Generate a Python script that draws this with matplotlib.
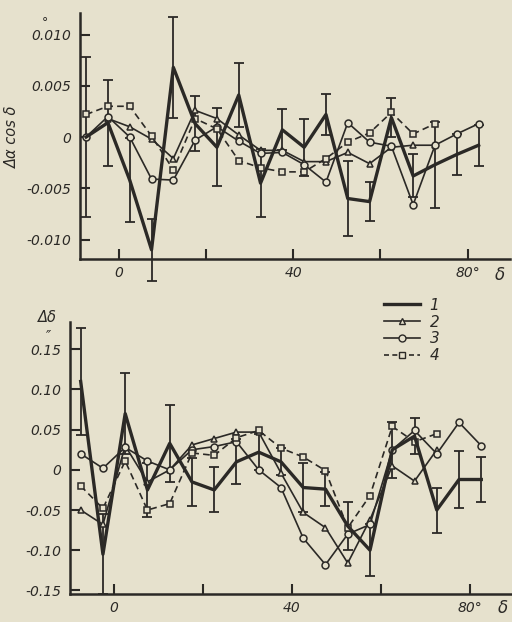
import matplotlib
matplotlib.use('Agg')
import matplotlib.pyplot as plt
from matplotlib.lines import Line2D

# declination zones (deg)
dec = [-7.5, -2.5, 2.5, 7.5, 12.5, 17.5, 22.5, 27.5, 32.5, 37.5,
       42.5, 47.5, 52.5, 57.5, 62.5, 67.5, 72.5, 77.5, 82.5]

# upper panel: delta alpha cos delta (s)
a1 = [0.0, 0.0014, -0.0042, -0.011, 0.0068, 0.0013, -0.001, 0.0041, -0.0045, 0.0007,
      -0.001, 0.0022, -0.006, -0.0063, 0.0019, -0.0038, -0.0027, -0.0017, -0.0008]
a1_err = [0.0078, 0.0042, 0.0041, 0.003, 0.0049, 0.0027, 0.0038, 0.0031, 0.0033, 0.002,
          0.0028, 0.002, 0.0037, 0.0019, 0.0019, 0.0021, 0.0042, 0.002, 0.002]
a2_dec = dec[1:17]
a2 = [0.0018, 0.001, -0.0002, -0.0021, 0.0026, 0.0018, 0.0002, -0.0013, -0.0013, -0.0024,
      -0.0024, -0.0015, -0.0026, -0.001, -0.0008, -0.0008]
a3 = [0.0, 0.002, 0.0, -0.0041, -0.0042, -0.0003, 0.001, -0.0004, -0.0016, -0.0015,
      -0.0027, -0.0044, 0.0014, -0.0005, -0.0009, -0.0066, -0.0008, 0.0003, 0.0013]
a4 = [0.0022, 0.003, 0.003, 0.0001, -0.0032, 0.0018, 0.0008, -0.0023, -0.003, -0.0034,
      -0.0034, -0.0021, -0.0005, 0.0004, 0.0024, 0.0003, 0.0013]

# lower panel: delta delta (")
d1 = [0.11, -0.105, 0.07, -0.025, 0.033, -0.015, -0.025, 0.01, 0.022, 0.01,
      -0.022, -0.024, -0.07, -0.1, 0.025, 0.042, -0.05, -0.012, -0.012]
d1_err = [0.067, 0.05, 0.05, 0.034, 0.048, 0.03, 0.028, 0.028, 0.022, 0.017,
          0.03, 0.021, 0.03, 0.032, 0.035, 0.022, 0.028, 0.035, 0.028]
d2_dec = dec[:17]
d2 = [-0.05, -0.068, 0.03, -0.015, 0.0, 0.031, 0.039, 0.047, 0.047, -0.004,
      -0.053, -0.072, -0.116, -0.062, 0.005, -0.014, 0.025]
d3 = [0.02, 0.002, 0.028, 0.011, 0.0, 0.025, 0.029, 0.035, 0.0, -0.022,
      -0.085, -0.118, -0.08, -0.068, 0.025, 0.049, 0.02, 0.059, 0.03]
d4 = [-0.02, -0.048, 0.011, -0.05, -0.042, 0.021, 0.018, 0.04, 0.049, 0.027,
      0.016, -0.001, -0.072, -0.032, 0.054, 0.035, 0.045]

x_ticks = [0, 20, 40, 60, 80]
x_labels = ['0', '', '40', '', '80°']
a_ticks = [-0.010, -0.005, 0, 0.005, 0.010]
a_labels = ['-0.010', '-0.005', '0', '0.005', '0.010']
d_ticks = [-0.15, -0.10, -0.05, 0, 0.05, 0.10, 0.15]
d_labels = ['-0.15', '-0.10', '-0.05', '0', '0.05', '0.10', '0.15']

paper = '#e6e1cd'
ink = '#2b2926'

plt.rcParams['font.style'] = 'italic'
plt.rcParams['font.size'] = 10

fig = plt.figure(figsize=(5.12, 6.22), dpi=100, facecolor=paper)
ax1 = fig.add_axes([80 / 512, 1 - 259 / 622, 430 / 512, 246 / 622])
ax2 = fig.add_axes([70 / 512, 1 - 594 / 622, 442 / 512, 272 / 622])


def style_axes(ax, yticks, ylabels):
    ax.set_facecolor(paper)
    for s in ['top', 'right']:
        ax.spines[s].set_visible(False)
    for s in ['left', 'bottom']:
        ax.spines[s].set_linewidth(1.8)
        ax.spines[s].set_color(ink)
    ax.tick_params(direction='in', length=7, width=1.5, colors=ink)
    ax.tick_params(axis='y', pad=6)
    ax.tick_params(axis='x', pad=5)
    ax.set_xticks(x_ticks)
    ax.set_xticklabels(x_labels)
    ax.set_yticks(yticks)
    ax.set_yticklabels(ylabels)


def draw_series(ax, y1, y1_err, x2, y2, y3, y4):
    eb = ax.errorbar(dec, y1, yerr=y1_err, color=ink, lw=2.4, elinewidth=1.3,
                     capsize=3.5, capthick=1.3)
    # bars run past the axis frame in the original
    for art in list(eb.lines[1]) + list(eb.lines[2]):
        art.set_clip_on(False)
    ax.plot(x2, y2, color=ink, lw=1.2,
            marker='^', ms=5, mfc=paper, mec=ink, mew=1.1)
    ax.plot(dec[:len(y3)], y3, color=ink, lw=1.2,
            marker='o', ms=5, mfc=paper, mec=ink, mew=1.1)
    ax.plot(dec[:len(y4)], y4, color=ink, lw=1.2, ls=(0, (4, 2.5)),
            marker='s', ms=5, mfc=paper, mec=ink, mew=1.1)


style_axes(ax1, a_ticks, a_labels)
draw_series(ax1, a1, a1_err, a2_dec, a2, a3, a4)
ax1.set_xlim(-8.9, 89.7)
ax1.set_ylim(-0.0119, 0.0121)

style_axes(ax2, d_ticks, d_labels)
draw_series(ax2, d1, d1_err, d2_dec, d2, d3, d4)
ax2.set_xlim(-9.9, 89.4)
ax2.set_ylim(-0.1545, 0.184)

# axis captions
fig.text(12 / 512, 1 - 137 / 622, 'Δα cos δ', rotation=90, ha='center', va='center',
         color=ink, fontsize=10.5)
fig.text(500 / 512, 1 - 275 / 622, 'δ', ha='center', va='center', color=ink, fontsize=12)
fig.text(47 / 512, 1 - 318 / 622, 'Δδ', ha='center', va='center', color=ink, fontsize=10.5)
fig.text(503 / 512, 1 - 608 / 622, 'δ', ha='center', va='center', color=ink, fontsize=12)
fig.text(45 / 512, 1 - 23 / 622, '°', ha='center', va='center', color=ink, fontsize=9)
fig.text(49 / 512, 1 - 335 / 622, '″', ha='center', va='center', color=ink, fontsize=10)

handles = [
    Line2D([], [], color=ink, lw=2.4),
    Line2D([], [], color=ink, lw=1.2, marker='^', ms=5, mfc=paper, mec=ink),
    Line2D([], [], color=ink, lw=1.2, marker='o', ms=5, mfc=paper, mec=ink),
    Line2D([], [], color=ink, lw=1.2, ls=(0, (3, 2)), marker='s', ms=5, mfc=paper, mec=ink),
]
leg = fig.legend(handles, ['1', '2', '3', '4'], loc='upper left',
                 bbox_to_anchor=(370 / 512, 1 - 284 / 622), frameon=False,
                 handlelength=2.4, labelspacing=0.12, handletextpad=0.6, fontsize=11)
for t in leg.get_texts():
    t.set_color(ink)

fig.savefig('out.png', dpi=100, facecolor=paper)
